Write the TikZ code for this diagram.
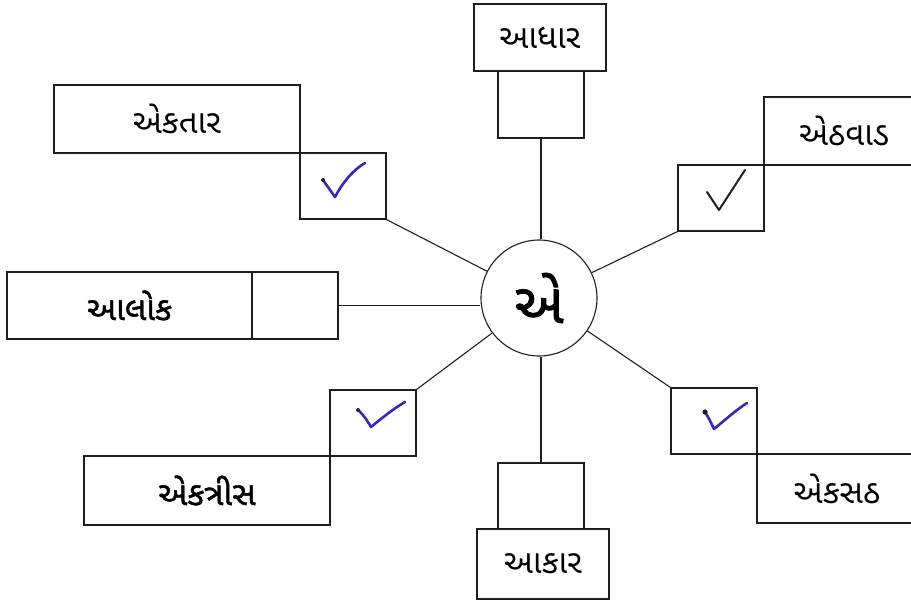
\documentclass[tikz,border=0pt]{standalone}
\usepackage{fontspec}
\newfontfamily\guj[Script=Gujarati]{Noto Sans Gujarati UI}
\newfontfamily\gujm[Script=Gujarati,FakeBold=1.2]{Noto Sans Gujarati UI}
\newfontfamily\gujc[Script=Gujarati,FakeBold=1.3]{Noto Sans Gujarati UI}
\definecolor{pen}{RGB}{55,40,185}
\definecolor{ink}{RGB}{30,30,30}
\begin{document}
\begin{tikzpicture}[x=1pt,y=-1pt,
  box/.style={draw=ink,line width=1.1pt,inner sep=0pt,rectangle,font=\guj\fontsize{33}{38}\selectfont},
  boldbox/.style={box,font=\gujm\fontsize{33}{38}\selectfont},
  link/.style={draw=ink,line width=1.1pt},
  tick/.style={line width=2.6pt,line cap=round,line join=round}]
\useasboundingbox (0,0) rectangle (911,603);
% centre
\node[draw=ink,line width=1.1pt,circle,minimum size=116pt,inner sep=0pt,font=\gujc\fontsize{56}{60}\selectfont] (c) at (539,298) {એ};
% top-left
\node[box,minimum width=246pt,minimum height=68pt] (etB) at (177,119) {એકતાર};
\node[box,minimum width=86pt,minimum height=66pt] (etS) at (343,186) {};
% top
\node[box,minimum width=132pt,minimum height=67pt] (adB) at (540,37.5) {આધાર};
\node[box,minimum width=86pt,minimum height=67pt] (adS) at (541,104.5) {};
% top-right
\node[box,minimum width=160pt,minimum height=68pt] (ewB) at (844,131) {એઠવાડ};
\node[box,minimum width=86pt,minimum height=66pt] (ewS) at (721,198) {};
% left
\node[boldbox,minimum width=245pt,minimum height=67pt] (alB) at (129.5,305.5) {આલોક};
\node[box,minimum width=86pt,minimum height=67pt] (alS) at (295,305.5) {};
% bottom-left
\node[box,minimum width=86pt,minimum height=66pt] (e31S) at (373,423) {};
\node[boldbox,minimum width=246pt,minimum height=69pt] (e31B) at (207,490.5) {એકત્રીસ};
% bottom
\node[box,minimum width=86pt,minimum height=66pt] (akS) at (541,496) {};
\node[box,minimum width=132pt,minimum height=70pt] (akB) at (543,564) {આકાર};
% bottom-right
\node[box,minimum width=86pt,minimum height=66pt] (e61S) at (714,421) {};
\node[box,minimum width=160pt,minimum height=69pt] (e61B) at (837,488.5) {એકસઠ};
% connectors
\draw[link] (etS.south east) -- (c);
\draw[link] (adS.south) -- (adS.south |- c.north);
\draw[link] (ewS.south west) -- (c);
\draw[link] (alS.east) -- (alS.east -| c.west);
\draw[link] (e31S.north east) -- (c);
\draw[link] (akS.north) -- (akS.north |- c.south);
\draw[link] (e61S.north west) -- (c);
% ticks
\draw[tick,pen] (323,180) -- (335,197) .. controls (343,182) and (353,170) .. (365,163);
\fill[ink!70!pen] (323,180) circle (2pt);
\draw[tick,ink,line width=2pt] (707,192) -- (719,210) -- (745,170);
\draw[tick,pen] (358,410) .. controls (364,415) and (368,422) .. (371,427) .. controls (382,418) and (393,409) .. (405,402);
\fill[ink!70!pen] (358,410) circle (2pt);
\draw[tick,pen] (705,412) .. controls (709,418) and (712,425) .. (714,429) .. controls (725,420) and (736,410) .. (747,403);
\fill[ink] (705,412) circle (2.6pt);
\end{tikzpicture}
\end{document}
